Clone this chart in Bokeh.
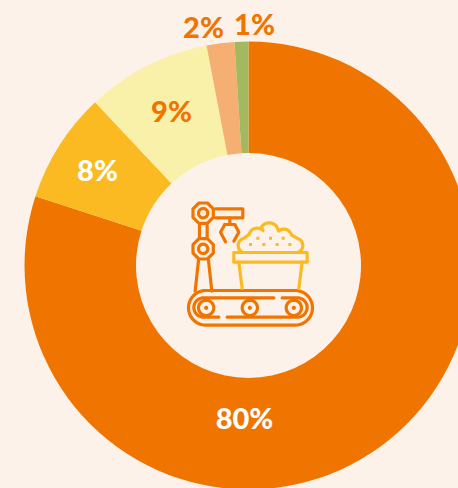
import numpy as np
from bokeh.plotting import figure
from bokeh.models import Range1d, ColumnDataSource
from bokeh.core.properties import value
from bokeh.embed import file_html
from bokeh.resources import INLINE

W, H = 458, 488
shares = [80, 8, 9, 2, 1]
labels = ["80%", "8%", "9%", "2%", "1%"]
slice_colors = ["#EF7400", "#FBBA22", "#F9F1A9", "#F5AF72", "#A4B95F"]
label_colors = ["#FFFFFF", "#FFFFFF", "#EF7400", "#EF7400", "#EF7400"]
label_x = [244, 97, 171, 203, 254]
label_y = [416.5, 169, 110, 26, 23]
BG = "#FDF2E9"
ORANGE, YELLOW = "#EF7400", "#FBBA22"
CX, CY, R_OUT, R_IN = 248, 265, 224, 112.5

p = figure(width=W, height=H, x_range=Range1d(0, W), y_range=Range1d(0, H),
           output_backend="svg", toolbar_location=None,
           background_fill_color=BG, border_fill_color=BG,
           min_border=0, outline_line_color=None)
p.axis.visible = False
p.grid.visible = False

fr = np.cumsum([0] + shares) / sum(shares) * 2 * np.pi
src = ColumnDataSource(dict(start=np.pi / 2 - fr[:-1], end=np.pi / 2 - fr[1:], color=slice_colors,
                            x=[CX] * 5, y=[H - CY] * 5))
p.annular_wedge(x="x", y="y", inner_radius=R_IN, outer_radius=R_OUT, start_angle="start", end_angle="end",
                direction="clock", fill_color="color", line_color=None, source=src)

p.text(x=label_x, y=[H - v for v in label_y], text=labels, text_color=label_colors,
       text_font=value("Lato Black"), text_font_style="normal", text_font_size="29px",
       text_align="center", text_baseline="middle")

# --- icon: coordinates in a local 480-unit box, mapped to the icon's place on the page
def tx(a): return 170 + np.asarray(a, float) / 3
def ty(a): return H - (180 + np.asarray(a, float) / 3)
def arc(cx, cy, r, a0, a1, n=24):
    t = np.radians(np.linspace(a0, a1, n))
    return cx + r * np.cos(t), cy + r * np.sin(t)
def stroke(xs, ys, color=ORANGE, w=3.2):
    p.line(tx(xs), ty(ys), line_color=color, line_width=w, line_cap="round", line_join="round")
def poly(cx, cy, r):
    t = np.radians(np.arange(22.5, 383, 45))
    return cx + r * np.cos(t), cy + r * np.sin(t)
def round_rect(x0, x1, y0, y1, r):
    ax, ay = arc(x1 - r, y0 + r, r, -90, 90)
    bx, by = arc(x0 + r, y0 + r, r, 90, 270)
    return np.r_[ax, bx, ax[0]], np.r_[ay, by, ay[0]]

# robot arm
for cy in (98, 205):
    stroke(*poly(98, cy, 33))
    stroke(*arc(98, cy, 14, 0, 360))
stroke([87, 87], [135, 170]); stroke([110, 110], [135, 170])
stroke([135, 217, 217, 135], [85, 85, 112, 112])
stroke([84, 74], [240, 332]); stroke([114, 124], [240, 332])
# gripper
stroke([178, 178], [112, 132])
stroke([163, 193, 205, 190], [132, 132, 155, 182])
stroke([163, 150, 165], [132, 155, 184])

# conveyor
stroke(*round_rect(54, 426, 330, 435, 52))
ax, ay = arc(381, 381, 29, -90, 90)
bx, by = arc(99, 381, 29, 90, 270)
stroke(np.r_[335, ax, 170], np.r_[352, ay, 410])
stroke(np.r_[145, bx, 310], np.r_[410, by, 352])
for cx in (107, 238, 370):
    stroke(*arc(cx, 382, 23, 0, 360))
    stroke(*arc(cx, 382, 3, 0, 360), w=2.2)

# bucket
stroke([190, 410, 410, 190, 190], [216, 216, 245, 245, 216], YELLOW)
stroke([205, 215], [245, 324], YELLOW)
stroke([395, 385], [245, 324], YELLOW)
lobes = [(225, 195, 22, 110, 255), (260, 168, 25, 195, 315), (296, 155, 28, 215, 325),
         (340, 170, 24, 230, 345), (375, 195, 22, -75, 70)]
pts = [arc(*l, 14) for l in lobes]
stroke(np.concatenate([q[0] for q in pts]), np.concatenate([q[1] for q in pts]), YELLOW)
p.scatter(tx([262, 300, 338, 240, 280, 320, 358]), ty([173, 173, 173, 192, 192, 192, 192]),
          size=3, marker="square", fill_color=YELLOW, line_color=None)

html = file_html(p, INLINE).replace(
    "<head>", "<head><style>html,body{margin:0;padding:0;overflow:hidden;background:#FDF2E9}</style>", 1)
open("out.html", "w").write(html)
